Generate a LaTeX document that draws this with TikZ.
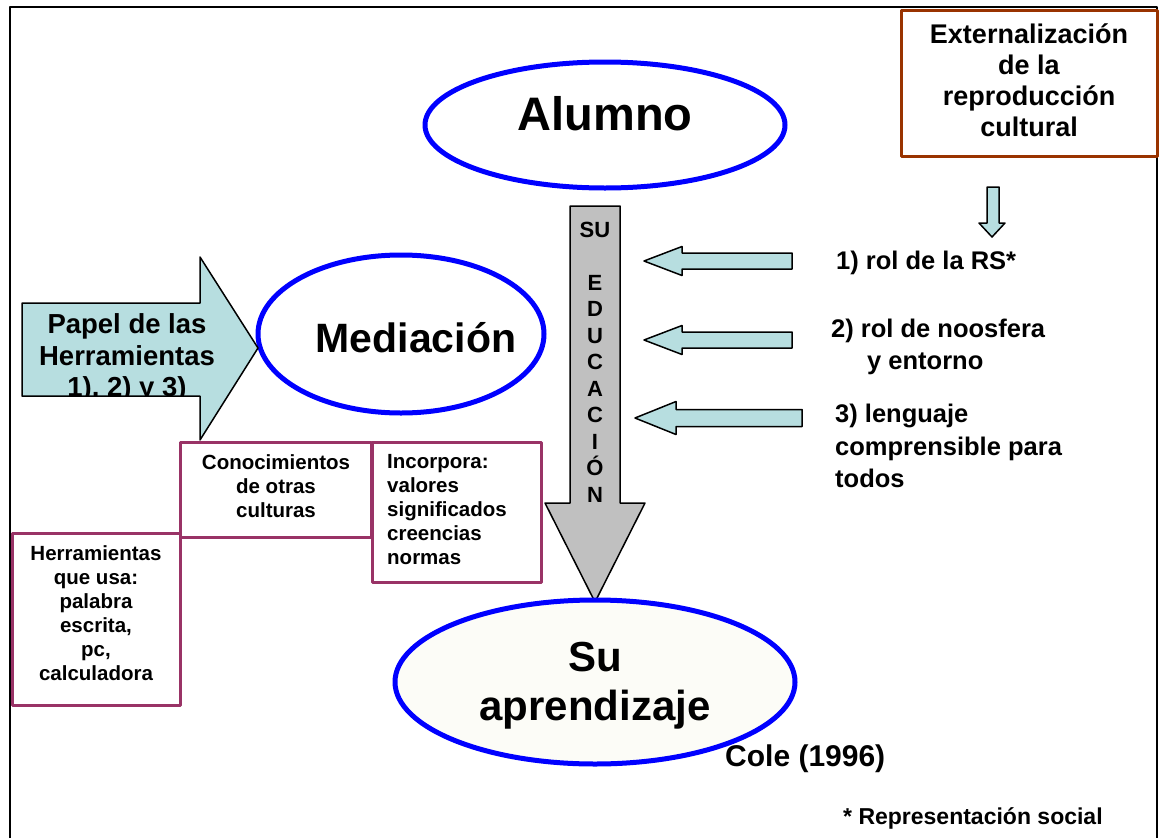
\documentclass[tikz,border=0pt]{standalone}
\usepackage{fontspec}
\setmainfont{Liberation Sans}
\usepackage{tikz}

\definecolor{celeste}{RGB}{183,222,224}
\definecolor{morado}{RGB}{153,51,102}
\definecolor{marron}{RGB}{153,51,0}
\definecolor{gris}{RGB}{192,192,192}
\definecolor{crema}{RGB}{252,252,247}
\newcommand{\fuente}[2]{\fontsize{#1}{#2}\selectfont\bfseries}

\begin{document}
\begin{tikzpicture}[line join=round,x=1pt,y=-1pt,every node/.style={inner sep=0pt},
  elipse/.style={draw=blue,line width=5pt},
  caja/.style={draw=morado,line width=3pt},
  bloque/.style={fill=celeste,draw=black,line width=1.5pt}]
     \useasboundingbox (0,0) rectangle (1159,838);
     \draw[line width=2.5pt] (10,838) -- (10,7) -- (1157,7) -- (1157,838); % marco

     \draw[draw=marron,line width=3pt,fill=white] (901,10) rectangle (1157,156); % caja arriba
     \draw (1029,80) node[align=center,font=\fuente{27}{31}] (ext) {Externalización\\de la\\reproducción\\cultural};
     \draw[bloque] (987,187) -- (999,187) -- (999,223) -- (1005,223) -- (992,237) -- (979,223) -- (987,223) -- cycle; % flecha chica

     \draw[elipse] (605,125) ellipse [x radius=180,y radius=63]; % Alumno
     \draw (605,114) node[font=\fuente{47}{56}] (alumno) {Alumno};

     \draw[fill=gris,line width=1.5pt] (570,206) -- (620,206) -- (620,503) -- (645,503) -- (595,602) -- (545,503) -- (570,503) -- cycle; % flecha gris
     \draw (595,362) node[align=center,font=\fuente{22}{26.5}] (edu) {SU\\[26.5pt]E\\D\\U\\C\\A\\C\\I\\Ó\\N};

     \foreach \p/\b/\e/\y/\s/\h in {644/682/792/261/8/14.5, 644/682/792/340/8/14.5, 635/676/802/418/8.5/16.5}
     \draw[bloque] (\p,\y) -- (\b,\y-\h) -- (\b,\y-\s) -- (\e,\y-\s) -- (\e,\y+\s) -- (\b,\y+\s) -- (\b,\y+\h) -- cycle; % flechas 1) 2) 3)

     \draw (836,263) node[anchor=west,font=\fuente{25.5}{33}] (rs) {1) rol de la RS*};
     \draw (831,347) node[anchor=west,align=left,font=\fuente{25.5}{32}] (noos) {2) rol de noosfera\\\hspace*{36pt}y entorno};
     \draw (835,446) node[anchor=west,align=left,font=\fuente{25.5}{32.5}] (leng) {3) lenguaje\\comprensible para\\todos};

     \draw[elipse] (401,334) ellipse [x radius=143,y radius=79]; % Mediacion
     \draw (416,338) node[font=\fuente{41}{48}] (med) {Mediación};

     \begin{scope}
     \clip (22,303) -- (200,303) -- (200,257) -- (258,348) -- (200,440) -- (200,396) -- (22,396) -- cycle;
     \fill[celeste] (0,250) rectangle (270,450);
     \draw (127,358) node[align=center,font=\fuente{27.5}{31.5}] (papel) {Papel de las\\Herramientas\\1), 2) y 3)};
     \end{scope}
     \draw[line width=1.5pt] (22,303) -- (200,303) -- (200,257) -- (258,348) -- (200,440) -- (200,396) -- (22,396) -- cycle; % flecha Papel

     \draw[caja] (180,442) rectangle (371,537); % cajas moradas
     \draw (276,486) node[align=center,font=\fuente{20.5}{24}] (conoc) {Conocimientos\\de otras\\culturas};
     \draw[caja] (372,442) rectangle (541,582);
     \draw (387,510) node[anchor=west,align=left,font=\fuente{20.5}{24}] (incorp) {Incorpora:\\valores\\significados\\creencias\\normas};
     \draw[caja] (12,533) rectangle (180,705);
     \draw (96,613) node[align=center,font=\fuente{20.5}{24}] (herr) {Herramientas\\que usa:\\palabra\\escrita,\\pc,\\calculadora};

     \draw[elipse,fill=crema] (595,682) ellipse [x radius=200,y radius=82]; % Su aprendizaje
     \draw (595,686) node[align=center,font=\fuente{42}{49}] (apr) {Su\\aprendizaje};

     \draw (725,759) node[anchor=west,font=\fuente{30}{36}] (cole) {Cole (1996)};
     \draw (843,818) node[anchor=west,font=\fuente{23}{28}] (nota) {* Representación social};
\end{tikzpicture}
\end{document}
